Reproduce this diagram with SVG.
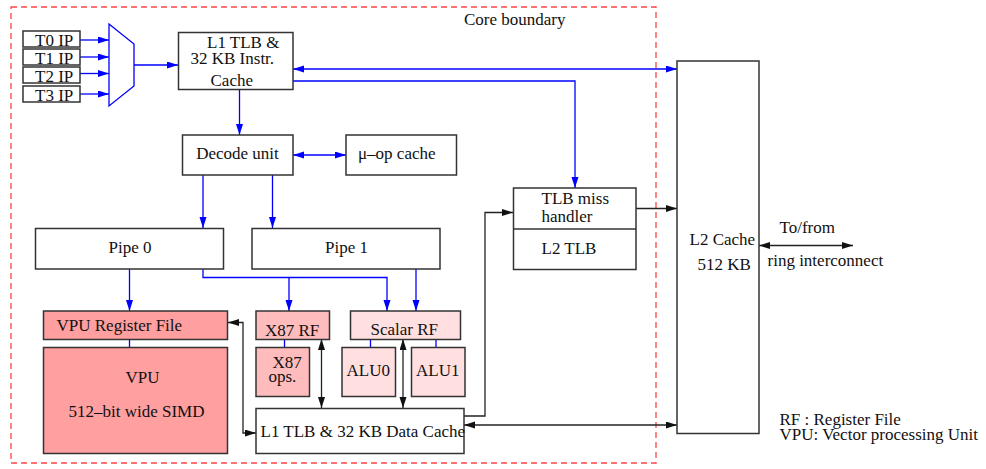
<svg xmlns="http://www.w3.org/2000/svg" width="986" height="469" viewBox="0 0 986 469">
<style>
text{font-family:"Liberation Serif","Times New Roman",serif;font-size:17px;fill:#111}
.box{fill:#fff;stroke:#333;stroke-width:1.5}
.vpu{fill:#ff9f9f;stroke:#333;stroke-width:1.5}
.x87{fill:#ffbcbc;stroke:#333;stroke-width:1.5}
.sc{fill:#ffdfdf;stroke:#333;stroke-width:1.5}
.b{fill:none;stroke:#0000ff;stroke-width:1.3}
.k{fill:none;stroke:#222;stroke-width:1.3}
.ba{marker-end:url(#ab)}
.bb{marker-start:url(#ab);marker-end:url(#ab)}
.ka{marker-end:url(#ak)}
.kb{marker-start:url(#ak);marker-end:url(#ak)}
</style>
<defs>
<marker id="ab" markerUnits="userSpaceOnUse" markerWidth="12" markerHeight="8" refX="11" refY="3.5" orient="auto-start-reverse"><path d="M0,0 L11,3.5 L0,7 z" fill="#0000ff"/></marker>
<marker id="ak" markerUnits="userSpaceOnUse" markerWidth="12" markerHeight="8" refX="11" refY="3.5" orient="auto-start-reverse"><path d="M0,0 L11,3.5 L0,7 z" fill="#111"/></marker>
</defs>
<rect x="11" y="7" width="645" height="456" fill="none" stroke="#ff4444" stroke-width="1.3" stroke-dasharray="6,4"/>
<text x="464" y="25">Core boundary</text>

<g id="connectors">
<line class="b ba" x1="80" y1="40" x2="109" y2="40"/>
<line class="b ba" x1="80" y1="57" x2="109" y2="57"/>
<line class="b ba" x1="80" y1="73.5" x2="109" y2="73.5"/>
<line class="b ba" x1="80" y1="94" x2="109" y2="94"/>
<line class="b ba" x1="134" y1="65" x2="178" y2="65"/>
<line class="b bb" x1="293" y1="69" x2="677" y2="69"/>
<polyline class="b ba" points="293,81 575,81 575,188"/>
<line class="b ba" x1="239.5" y1="90" x2="239.5" y2="135"/>
<line class="b bb" x1="293" y1="155" x2="346" y2="155"/>
<line class="b ba" x1="203" y1="175" x2="203" y2="228"/>
<line class="b ba" x1="272.5" y1="175" x2="272.5" y2="228"/>
<line class="b ba" x1="129.5" y1="269" x2="129.5" y2="311"/>
<polyline class="b ba" points="203,269 203,277.5 387,277.5 387,311"/>
<line class="b ba" x1="289" y1="277.5" x2="289" y2="311"/>
<line class="b ba" x1="416" y1="269" x2="416" y2="311"/>
<line class="b" x1="129.5" y1="339" x2="129.5" y2="347"/>
<line class="b" x1="284.5" y1="339" x2="284.5" y2="347"/>
<line class="b" x1="370.5" y1="339" x2="370.5" y2="347"/>
<line class="b" x1="436" y1="339" x2="436" y2="347"/>
<line class="k kb" x1="321.5" y1="339" x2="321.5" y2="408"/>
<line class="k kb" x1="403" y1="339" x2="403" y2="408"/>
<polyline class="k kb" points="228,322.5 243,322.5 243,433 256,433"/>
<polyline class="k ka" points="464,416 485,416 485,212.5 513,212.5"/>
<line class="k kb" x1="464" y1="425" x2="677" y2="425"/>
<line class="k ka" x1="636" y1="208.5" x2="677" y2="208.5"/>
<line class="k kb" x1="759" y1="245.5" x2="853" y2="245.5" stroke-width="2.5" stroke="#000"/>
</g>

<g id="t0"><rect class="box" x="23" y="31" width="57" height="16"/><text x="35" y="45.5">T0 IP</text></g>
<g id="t1"><rect class="box" x="23" y="49" width="57" height="16"/><text x="35" y="63.5">T1 IP</text></g>
<g id="t2"><rect class="box" x="23" y="67" width="57" height="16"/><text x="35" y="81.5">T2 IP</text></g>
<g id="t3"><rect class="box" x="23" y="86" width="57" height="16"/><text x="35" y="100.5">T3 IP</text></g>
<g id="mux"><polygon points="109,24 134,44 134,86 109,106" fill="#fff" stroke="#0000ff" stroke-width="1.3"/></g>

<g id="l1i"><rect class="box" x="178.5" y="32.5" width="114.5" height="57"/>
<text x="207" y="48">L1 TLB &amp;</text><text x="190.5" y="64">32 KB Instr.</text><text x="210.5" y="85.5">Cache</text></g>

<g id="decode"><rect class="box" x="182.5" y="135" width="110.5" height="40"/><text x="237.5" y="159" text-anchor="middle">Decode unit</text></g>
<g id="uop"><rect class="box" x="346" y="135" width="110.5" height="40"/><text x="358" y="159">μ–op cache</text></g>

<g id="pipe0"><rect class="box" x="35.5" y="228.5" width="188" height="40.5"/><text x="130" y="253" text-anchor="middle">Pipe 0</text></g>
<g id="pipe1"><rect class="box" x="252" y="228.5" width="188" height="40.5"/><text x="346.5" y="253" text-anchor="middle">Pipe 1</text></g>

<g id="vpurf"><rect class="vpu" x="43.5" y="311" width="184" height="28.5"/><text x="56.5" y="331">VPU Register File</text></g>
<g id="vpu"><rect class="vpu" x="43.5" y="347.5" width="184" height="106"/><text x="142.5" y="383" text-anchor="middle">VPU</text><text x="68.5" y="417">512–bit wide SIMD</text></g>

<g id="x87rf"><rect class="x87" x="256" y="311" width="73.5" height="28.5"/><text x="265" y="335.5">X87 RF</text></g>
<g id="x87ops"><rect class="x87" x="256" y="347.5" width="53.5" height="49"/><text x="272.5" y="368">X87</text><text x="268.5" y="381.5">ops.</text></g>

<g id="scalarrf"><rect class="sc" x="350.5" y="311" width="110" height="28.5"/><text x="370.5" y="335">Scalar RF</text></g>
<g id="alu0"><rect class="sc" x="342" y="347.5" width="53.5" height="49"/><text x="346.5" y="375.5">ALU0</text></g>
<g id="alu1"><rect class="sc" x="411.5" y="347.5" width="53.5" height="49"/><text x="416" y="375.5">ALU1</text></g>

<g id="l1d"><rect class="box" x="256" y="408.5" width="208" height="45"/><text x="260.5" y="437">L1 TLB &amp; 32 KB Data Cache</text></g>

<g id="tlbmiss"><rect class="box" x="513.5" y="188" width="122.5" height="81.5"/><line x1="513.5" y1="229" x2="636" y2="229" stroke="#333" stroke-width="1.5"/>
<text x="541.5" y="204">TLB miss</text><text x="541.5" y="221.5">handler</text><text x="541.5" y="253.5">L2 TLB</text></g>

<g id="l2"><rect class="box" x="677" y="61" width="82" height="372.5"/><text x="689.5" y="245">L2 Cache</text><text x="697.5" y="270">512 KB</text></g>

<text x="779.5" y="233">To/from</text>
<text x="767.5" y="266">ring interconnect</text>
<text x="779.5" y="425">RF : Register File</text>
<text x="779.5" y="440">VPU: Vector processing Unit</text>
</svg>
